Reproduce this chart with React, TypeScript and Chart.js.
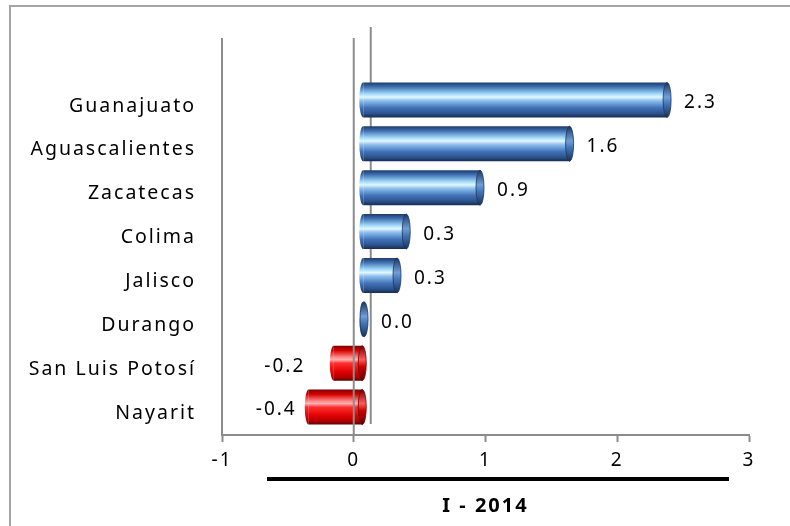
import React, { useEffect, useRef } from "react";
import { Chart, registerables } from "chart.js";

Chart.register(...registerables);

// ---- data ----
const categories = [
  "Guanajuato",
  "Aguascalientes",
  "Zacatecas",
  "Colima",
  "Jalisco",
  "Durango",
  "San Luis Potosí",
  "Nayarit",
];
const values = [2.31, 1.57, 0.89, 0.33, 0.26, 0.01, -0.22, -0.41];
const xMin = -1;
const xMax = 3;
const xStep = 1;
const axisTitle = "I - 2014";

// ---- style ----
const FONT = "'Noto Sans', sans-serif";
const SPACING = 2;
const DEPTH_X = 9;
const DEPTH_Y = -6;
const CAP_RX = 4;
const BAR_PCT = 0.8;
const GRID = "#8c8c8c";

function bodyGradient(ctx: CanvasRenderingContext2D, top: number, bottom: number, neg: boolean) {
  if (!isFinite(top) || !isFinite(bottom) || top === bottom) return neg ? "#e00000" : "#4a78bb";
  const g = ctx.createLinearGradient(0, top, 0, bottom);
  if (!neg) {
    g.addColorStop(0, "#1d3b68");
    g.addColorStop(0.12, "#3c6aad");
    g.addColorStop(0.32, "#9ed6f8");
    g.addColorStop(0.42, "#e2f8ff");
    g.addColorStop(0.52, "#8fc0ee");
    g.addColorStop(0.72, "#4273b9");
    g.addColorStop(0.88, "#2c548d");
    g.addColorStop(1, "#172c52");
  } else {
    g.addColorStop(0, "#7a0000");
    g.addColorStop(0.14, "#d80000");
    g.addColorStop(0.32, "#ff8080");
    g.addColorStop(0.4, "#ffb4b4");
    g.addColorStop(0.5, "#ff3030");
    g.addColorStop(0.75, "#e00000");
    g.addColorStop(0.9, "#b00000");
    g.addColorStop(1, "#5e0000");
  }
  return g;
}

function faceGradient(ctx: CanvasRenderingContext2D, top: number, bottom: number, neg: boolean) {
  if (!isFinite(top) || !isFinite(bottom) || top === bottom) return neg ? "#c00000" : "#2c5590";
  const g = ctx.createLinearGradient(0, top, 0, bottom);
  if (!neg) {
    g.addColorStop(0, "#1b355f");
    g.addColorStop(0.42, "#6f9fd8");
    g.addColorStop(0.6, "#4677b8");
    g.addColorStop(1, "#18305a");
  } else {
    g.addColorStop(0, "#6a0000");
    g.addColorStop(0.4, "#ff5a5a");
    g.addColorStop(0.6, "#d00000");
    g.addColorStop(1, "#580000");
  }
  return g;
}

const decoPlugin = {
  id: "deco",
  beforeUpdate(chart: any) {
    chart.ctx.letterSpacing = `${SPACING}px`;
  },
  beforeDraw(chart: any) {
    const ctx = chart.ctx as CanvasRenderingContext2D;
    ctx.letterSpacing = `${SPACING}px`;
    ctx.save();
    ctx.fillStyle = "#a6a6a6";
    ctx.fillRect(9, 5, 2, chart.height);
    ctx.fillRect(9, 5, chart.width, 2);
    ctx.restore();
  },
  beforeDatasetsDraw(chart: any) {
    const ctx = chart.ctx as CanvasRenderingContext2D;
    const xs = chart.scales.x;
    const area = chart.chartArea;
    const xLeft = xs.getPixelForValue(xMin);
    const x0 = xs.getPixelForValue(0);
    ctx.save();
    ctx.strokeStyle = GRID;
    ctx.lineWidth = 2;
    ctx.beginPath();
    ctx.moveTo(xLeft, area.top - 46);
    ctx.lineTo(xLeft, area.bottom);
    ctx.moveTo(x0 + 17, area.top - 57);
    ctx.lineTo(x0 + 17, area.bottom - 11);
    ctx.stroke();
    ctx.restore();
    // 3D depth offset for the bars
    ctx.save();
    ctx.translate(DEPTH_X, DEPTH_Y);
  },
  afterDatasetsDraw(chart: any) {
    const ctx = chart.ctx as CanvasRenderingContext2D;
    const meta = chart.getDatasetMeta(0);
    meta.data.forEach((el: any, i: number) => {
      const p = el.getProps(["x", "y", "base", "height"], true);
      const neg = values[i] < 0;
      const half = p.height / 2;
      const top = p.y - half;
      const bottom = p.y + half;
      const left = Math.min(p.x, p.base);
      const right = Math.max(p.x, p.base);
      // rounded near (left) end
      ctx.beginPath();
      ctx.ellipse(left, p.y, CAP_RX, half, 0, Math.PI / 2, (3 * Math.PI) / 2);
      ctx.closePath();
      ctx.fillStyle = bodyGradient(ctx, top, bottom, neg);
      ctx.fill();
      // end face
      ctx.beginPath();
      ctx.ellipse(right, p.y, CAP_RX, half, 0, 0, Math.PI * 2);
      ctx.fillStyle = faceGradient(ctx, top, bottom, neg);
      ctx.fill();
      ctx.lineWidth = 0.8;
      ctx.strokeStyle = neg ? "#7a0000" : "#1d3560";
      ctx.stroke();
    });
    ctx.restore();

    const xs = chart.scales.x;
    const area = chart.chartArea;
    const x0 = xs.getPixelForValue(0);
    ctx.save();
    ctx.strokeStyle = GRID;
    ctx.lineWidth = 2;
    ctx.beginPath();
    ctx.moveTo(x0, area.top - 46);
    ctx.lineTo(x0, area.bottom);
    ctx.stroke();

    // thick bar under the axis
    ctx.fillStyle = "#000";
    ctx.fillRect(area.left + 45, area.bottom + 42, area.right - 20 - (area.left + 45), 4);

    // value labels
    ctx.letterSpacing = `${SPACING}px`;
    ctx.font = `19px ${FONT}`;
    ctx.fillStyle = "#000";
    ctx.textBaseline = "middle";
    meta.data.forEach((el: any, i: number) => {
      const p = el.getProps(["x", "y", "base", "height"], true);
      const v = values[i];
      const txt = v.toFixed(1);
      const y = p.y + DEPTH_Y + 3;
      if (v >= 0) {
        ctx.textAlign = "left";
        ctx.fillText(txt, p.x + DEPTH_X + CAP_RX + 13, y);
      } else {
        ctx.textAlign = "right";
        const zeroPx = p.base + DEPTH_X;
        const visLeft = p.x + DEPTH_X - CAP_RX;
        const rx = Math.min(visLeft - 10, zeroPx - 59) + SPACING;
        ctx.fillText(txt, rx, y);
      }
    });
    ctx.restore();
  },
};

export default function App() {
  const ref = useRef<HTMLCanvasElement>(null);
  useEffect(() => {
    const canvas = ref.current!;
    const chart = new Chart(canvas, {
      type: "bar",
      data: {
        labels: categories,
        datasets: [
          {
            data: values,
            barPercentage: BAR_PCT,
            categoryPercentage: 1,
            borderWidth: 0,
            backgroundColor: (c: any) => {
              const ch = c.chart;
              const ys = ch.scales?.y;
              if (!ys || c.dataIndex === undefined) return "#4a78bb";
              const center = ys.getPixelForValue(c.dataIndex);
              const half = ((ys.bottom - ys.top) / categories.length) * BAR_PCT / 2;
              return bodyGradient(ch.ctx, center - half, center + half, values[c.dataIndex] < 0);
            },
          },
        ],
      },
      options: {
        indexAxis: "y",
        animation: false,
        responsive: true,
        maintainAspectRatio: false,
        layout: { padding: { top: 84, right: 41, left: 0, bottom: 0 } },
        plugins: {
          legend: { display: false },
          tooltip: { enabled: false },
        },
        scales: {
          x: {
            type: "linear",
            min: xMin,
            max: xMax,
            ticks: {
              stepSize: xStep,
              color: "#000",
              font: { family: FONT, size: 19 },
              padding: 7,
              maxRotation: 0,
            },
            grid: {
              display: true,
              drawOnChartArea: false,
              drawTicks: true,
              tickLength: 7,
              tickColor: GRID,
              tickWidth: 2,
              color: GRID,
            },
            border: { display: true, color: GRID, width: 2 },
            title: {
              display: true,
              text: axisTitle,
              color: "#000",
              font: { family: FONT, size: 20, weight: "bold" },
              padding: { top: 4, bottom: 8 },
            },
            afterFit: (s: any) => {
              s.height = 91;
            },
          },
          y: {
            type: "category",
            ticks: {
              color: "#000",
              font: { family: FONT, size: 19.5 },
              padding: 26,
            },
            grid: { display: false, drawTicks: false },
            border: { display: false },
            afterFit: (s: any) => {
              s.width = 222;
            },
          },
        },
      },
      plugins: [decoPlugin],
    } as any);
    return () => chart.destroy();
  }, []);
  return (
    <div style={{ position: "fixed", left: 0, top: 0, width: 790, height: 526, background: "#fff" }}>
      <canvas ref={ref} />
    </div>
  );
}
